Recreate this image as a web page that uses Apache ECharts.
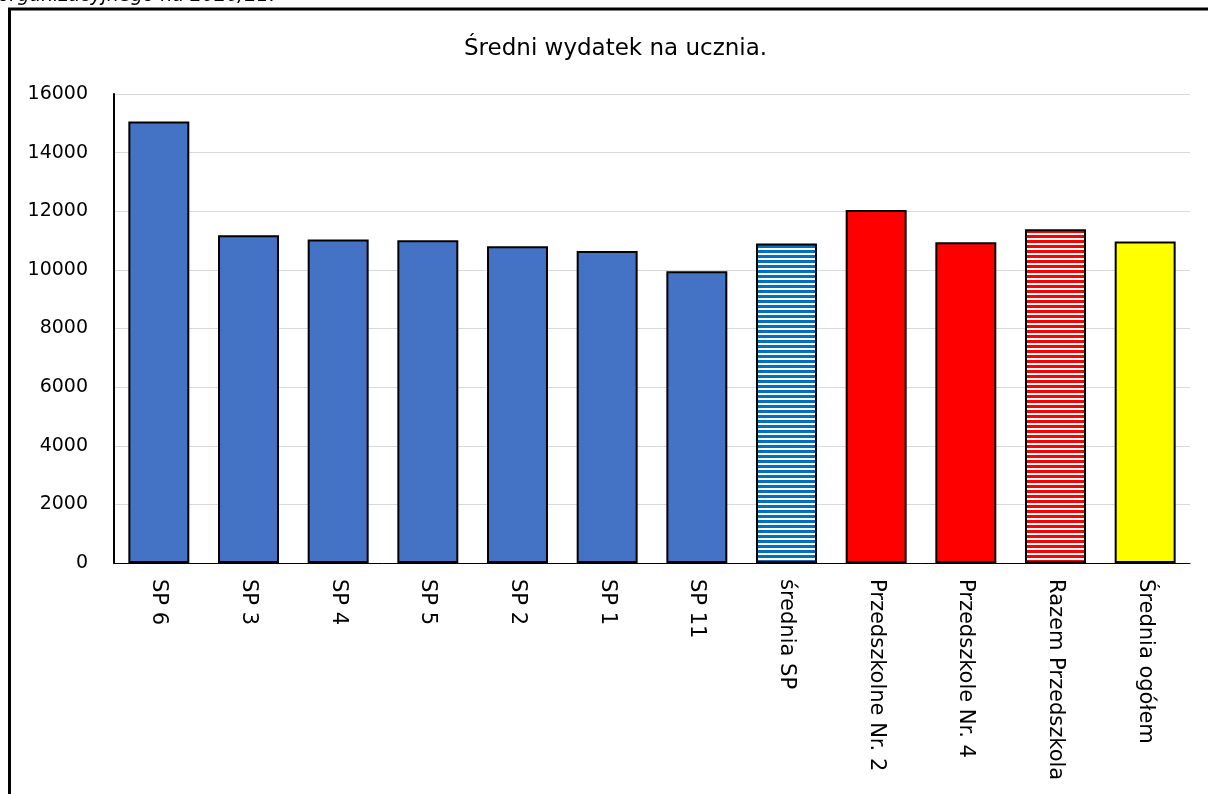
<!DOCTYPE html>
<html>
<head>
<meta charset="utf-8">
<script src="https://cdn.jsdelivr.net/npm/echarts@6/dist/echarts.min.js"></script>
<style>
html,body{margin:0;padding:0;background:#fff;}
#chart{width:1208px;height:794px;}
</style>
</head>
<body>
<div id="chart"></div>
<script>
var categories = ['SP 6', 'SP 3', 'SP 4', 'SP 5', 'SP 2', 'SP 1', 'SP 11', 'średnia SP',
    'Przedszkolne Nr. 2', 'Przedszkole Nr. 4', 'Razem Przedszkola', 'Średnia ogółem'];
var values = [15060, 11180, 11040, 11010, 10810, 10640, 9950, 10900, 12040, 10940, 11390, 10970];
// rodzaj wypełnienia słupka
var fills = ['blue', 'blue', 'blue', 'blue', 'blue', 'blue', 'blue', 'blueStripes',
    'red', 'red', 'redStripes', 'yellow'];

function stripes(color) {
    var c = document.createElement('canvas');
    c.width = 4;
    c.height = 5;
    var ctx = c.getContext('2d');
    ctx.fillStyle = '#fff';
    ctx.fillRect(0, 0, 4, 5);
    ctx.fillStyle = color;
    ctx.fillRect(0, 0, 4, 3);
    return {image: c, repeat: 'repeat'};
}

var colors = {
    blue: '#4472C4',
    red: '#FF0000',
    yellow: '#FFFF00',
    blueStripes: stripes('#0070C0'),
    redStripes: stripes('#FF0000')
};

var barData = [];
for (var i = 0; i < values.length; i++) {
    barData.push({
        value: values[i],
        itemStyle: {color: colors[fills[i]]}
    });
}

var chart = echarts.init(document.getElementById('chart'));
var option = {
    animation: false,
    textStyle: {fontFamily: 'DejaVu Sans'},
    title: {
        text: 'Średni wydatek na ucznia.',
        left: 459,
        top: 33,
        textStyle: {fontSize: 23, fontWeight: 'normal', color: '#000', fontFamily: 'DejaVu Sans'}
    },
    graphic: [
        {
            type: 'text',
            left: -2,
            top: -13,
            style: {text: 'organizacyjnego na 2020/21.', font: 'italic 19px "DejaVu Sans"', fill: '#000'}
        },
        {
            type: 'rect',
            shape: {x: 9.5, y: 9, width: 1220, height: 820},
            style: {fill: 'none', stroke: '#000', lineWidth: 3}
        }
    ],
    grid: {left: 114, right: 18, top: 94, bottom: 231},
    xAxis: {
        type: 'category',
        data: categories,
        axisLine: {lineStyle: {color: '#000', width: 1}},
        axisTick: {show: false},
        axisLabel: {rotate: -90, color: '#000', fontSize: 21, margin: 16, interval: 0}
    },
    yAxis: {
        type: 'value',
        min: 0,
        max: 16000,
        interval: 2000,
        axisLine: {show: true, lineStyle: {color: '#000', width: 2}},
        axisTick: {show: false},
        splitLine: {lineStyle: {color: '#d9d9d9'}},
        axisLabel: {color: '#000', fontSize: 19, margin: 26, formatter: function (v) { return String(v); }}
    },
    series: [{
        type: 'bar',
        data: barData,
        barCategoryGap: '32%',
        itemStyle: {borderColor: '#000', borderWidth: 2}
    }]
};
chart.setOption(option);
</script>
</body>
</html>
